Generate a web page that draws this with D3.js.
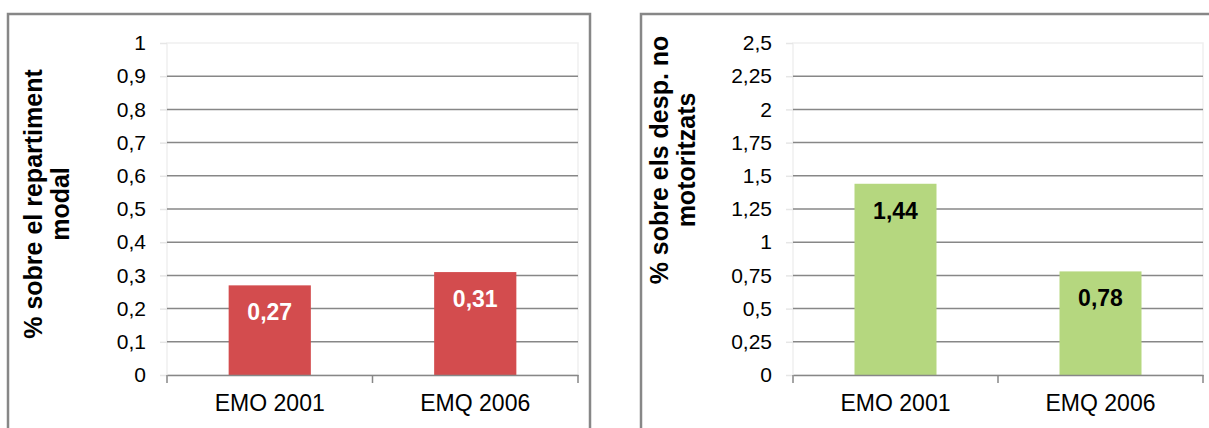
<!DOCTYPE html>
<html>
<head>
<meta charset="utf-8">
<script src="https://cdn.jsdelivr.net/npm/d3@7"></script>
<style>
  html, body { margin: 0; padding: 0; background: #ffffff; }
  svg { display: block; }
  text { font-family: "Liberation Sans", Arial, sans-serif; }
</style>
</head>
<body>
<svg id="chart" width="1209" height="428"></svg>
<script>
// ---- data ----
const categories = ["EMO 2001", "EMQ 2006"];
const valuesModal = [0.27, 0.31];
const valuesNoMotor = [1.44, 0.78];
const labelsModal = ["0,27", "0,31"];
const labelsNoMotor = ["1,44", "0,78"];
const ticksModal = [0, 0.1, 0.2, 0.3, 0.4, 0.5, 0.6, 0.7, 0.8, 0.9, 1];
const ticksNoMotor = [0, 0.25, 0.5, 0.75, 1, 1.25, 1.5, 1.75, 2, 2.25, 2.5];
const titleModal = ["% sobre el repartiment", "modal"];
const titleNoMotor = ["% sobre els desp. no", "motoritzats"];

const svg = d3.select("#chart");
const fmt = v => String(v).replace(".", ",");

function panel(opt) {
  const g = svg.append("g");
  // frame
  g.append("rect")
    .attr("x", opt.frame[0]).attr("y", opt.frame[1])
    .attr("width", opt.frame[2]).attr("height", opt.frame[3])
    .attr("fill", "#fff").attr("stroke", "#878787").attr("stroke-width", 2.5);

  const x = d3.scaleBand().domain(categories).range([opt.left, opt.right]).paddingInner(0.6).paddingOuter(0.3);
  const xb = d3.scaleBand().domain(categories).range([opt.left, opt.right]);
  const y = d3.scaleLinear().domain([0, opt.max]).range([opt.bottom, opt.top]);

  // plot area light border
  g.append("rect")
    .attr("x", opt.left).attr("y", opt.top)
    .attr("width", opt.right - opt.left).attr("height", opt.bottom - opt.top)
    .attr("fill", "none").attr("stroke", "#efefef").attr("stroke-width", 1.5);

  // gridlines
  g.append("g").selectAll("line").data(opt.ticks.filter(t => t > 0 && t < opt.max))
    .join("line")
    .attr("x1", opt.left).attr("x2", opt.right)
    .attr("y1", d => y(d)).attr("y2", d => y(d))
    .attr("stroke", "#878787").attr("stroke-width", 1.5);

  // y axis
  const ya = g.append("g").attr("transform", `translate(${opt.left},0)`)
    .call(d3.axisLeft(y).tickValues(opt.ticks).tickFormat(fmt).tickSize(7).tickPadding(14));
  ya.select(".domain").remove();
  ya.selectAll(".tick line").attr("stroke", "#e6e6e6").attr("stroke-width", 1.5);
  ya.selectAll(".tick text").attr("font-size", 21).attr("fill", "#000")
    .attr("font-family", "Liberation Sans, Arial, sans-serif");

  // bars
  g.append("g").selectAll("rect").data(opt.values)
    .join("rect")
    .attr("x", (d, i) => x(categories[i]))
    .attr("width", x.bandwidth())
    .attr("y", d => y(d))
    .attr("height", d => y(0) - y(d))
    .attr("fill", opt.color);

  // data labels
  g.append("g").selectAll("text").data(opt.values)
    .join("text")
    .attr("x", (d, i) => x(categories[i]) + x.bandwidth() / 2)
    .attr("y", d => y(d) + 27)
    .attr("dy", "0.35em")
    .attr("text-anchor", "middle")
    .attr("font-size", 23).attr("font-weight", "bold")
    .attr("fill", opt.labelColor)
    .text((d, i) => opt.labels[i]);

  // x axis
  const xa = g.append("g").attr("transform", `translate(0,${opt.bottom})`)
    .call(d3.axisBottom(xb).tickSize(0).tickPadding(20));
  xa.select(".domain").attr("stroke", "#878787").attr("stroke-width", 1.5);
  xa.selectAll(".tick text").attr("font-size", 23).attr("fill", "#000")
    .attr("font-family", "Liberation Sans, Arial, sans-serif");
  // category separator ticks
  const bounds = categories.map(c => xb(c)).concat([opt.right]);
  xa.selectAll("line.sep").data(bounds).join("line").attr("class", "sep")
    .attr("x1", d => d).attr("x2", d => d).attr("y1", 0).attr("y2", 8)
    .attr("stroke", "#878787").attr("stroke-width", 1.5);

  // axis title
  const t = g.append("text")
    .attr("transform", `translate(${opt.titleX},${opt.titleY}) rotate(-90)`)
    .attr("text-anchor", "middle")
    .attr("font-size", 25).attr("font-weight", "bold").attr("fill", "#000");
  t.selectAll("tspan").data(opt.title).join("tspan")
    .attr("x", 0).attr("dy", (d, i) => i === 0 ? 0 : 27)
    .text(d => d);
}

panel({
  frame: [8, 14, 582, 430],
  left: 167, right: 578, top: 43, bottom: 375, max: 1,
  ticks: ticksModal, values: valuesModal, labels: labelsModal,
  color: "#d34c4e", labelColor: "#ffffff",
  title: titleModal, titleX: 42, titleY: 204
});
panel({
  frame: [641, 14, 600, 430],
  left: 793, right: 1203, top: 43, bottom: 375, max: 2.5,
  ticks: ticksNoMotor, values: valuesNoMotor, labels: labelsNoMotor,
  color: "#b5d77f", labelColor: "#000000",
  title: titleNoMotor, titleX: 668, titleY: 160
});
</script>
</body>
</html>
